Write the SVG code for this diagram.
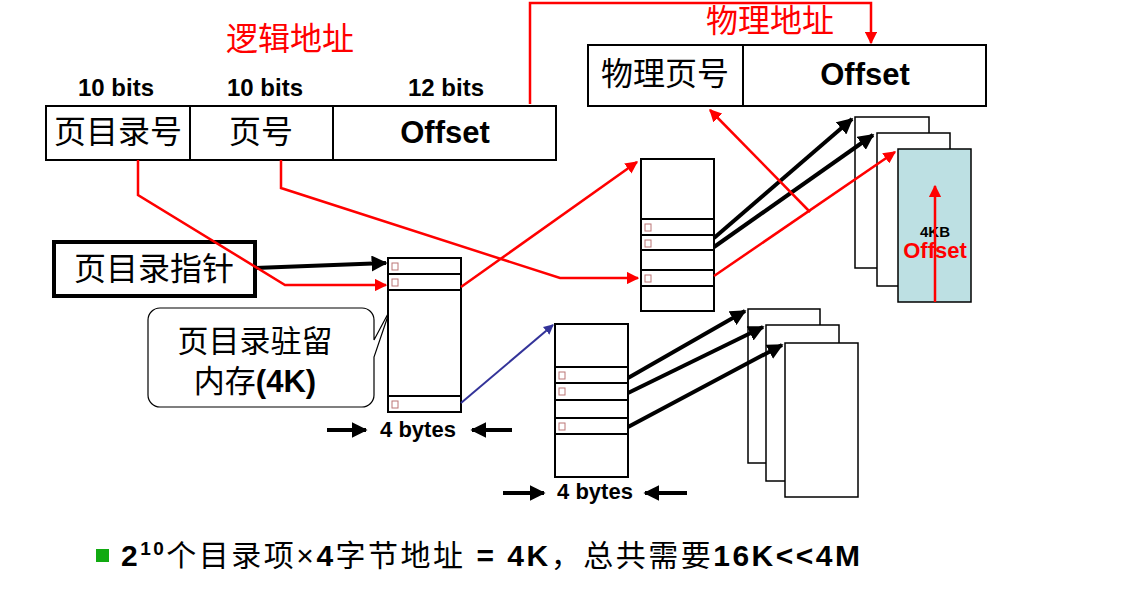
<svg xmlns="http://www.w3.org/2000/svg" width="1141" height="589" viewBox="0 0 1141 589">
<style>
.b{fill:#fff;stroke:#000;stroke-width:2}
.t{font-family:"Liberation Sans","Noto Sans CJK SC",sans-serif;font-weight:bold}
.c{font-family:"Liberation Sans","Noto Sans CJK SC",sans-serif}
.r{stroke:#f00;stroke-width:2.5;fill:none}
.k{stroke:#000;stroke-width:4;fill:none}
.ic{fill:#fff;stroke:#b77;stroke-width:1}
</style>
<defs>
<marker id="ar" viewBox="0 0 10 10" refX="9" refY="5" markerWidth="5" markerHeight="5" orient="auto"><path d="M0,0L10,5L0,10z" fill="#f00"/></marker>
<marker id="ak" viewBox="0 0 10 10" refX="9" refY="5" markerWidth="4" markerHeight="4" orient="auto"><path d="M0,0L10,5L0,10z" fill="#000"/></marker>
<marker id="ab" viewBox="0 0 10 10" refX="9" refY="5" markerWidth="5" markerHeight="5" orient="auto"><path d="M0,0L10,5L0,10z" fill="#339"/></marker>
</defs>
<rect width="1141" height="589" fill="#fff"/>
<g id="logical">
<text x="290" y="50" class="c" font-size="32" fill="#f00" text-anchor="middle">逻辑地址</text>
<text x="116" y="96" class="t" font-size="24" text-anchor="middle">10 bits</text>
<text x="265" y="96" class="t" font-size="24" text-anchor="middle">10 bits</text>
<text x="446" y="96" class="t" font-size="24" text-anchor="middle">12 bits</text>
<rect x="46" y="106" width="510" height="54" class="b"/>
<line x1="190" y1="106" x2="190" y2="160" stroke="#000" stroke-width="2"/>
<line x1="333" y1="106" x2="333" y2="160" stroke="#000" stroke-width="2"/>
<text x="118" y="143" class="c" font-size="32" text-anchor="middle">页目录号</text>
<text x="261" y="143" class="c" font-size="32" text-anchor="middle">页号</text>
<text x="445" y="143" class="t" font-size="31" text-anchor="middle">Offset</text>
</g>
<g id="physical">
<text x="770" y="32" class="c" font-size="32" fill="#f00" text-anchor="middle">物理地址</text>
<rect x="588" y="45" width="398" height="61" class="b"/>
<line x1="743" y1="45" x2="743" y2="106" stroke="#000" stroke-width="2"/>
<text x="665" y="85" class="c" font-size="32" text-anchor="middle">物理页号</text>
<text x="865" y="85" class="t" font-size="31" text-anchor="middle">Offset</text>
</g>
<g id="pdptr">
<rect x="54" y="242" width="201" height="54" fill="#fff" stroke="#000" stroke-width="4"/>
<text x="154" y="280" class="c" font-size="32" text-anchor="middle">页目录指针</text>
</g>
<g id="callout">
<path d="M160,308H362a12,12 0 0 1 12,12V340L390,310L374,357V395a12,12 0 0 1 -12,12H160a12,12 0 0 1 -12,-12V320a12,12 0 0 1 12,-12z" fill="#fff" stroke="#000" stroke-width="1.2"/>
<text x="255" y="352" class="c" font-size="31" text-anchor="middle">页目录驻留</text>
<text x="255" y="392" class="c" font-size="31" text-anchor="middle">内存<tspan class="t">(4K)</tspan></text>
</g>
<g id="pagedir">
<rect x="388" y="258" width="73" height="154" class="b"/>
<line x1="388" y1="274" x2="461" y2="274" stroke="#000" stroke-width="2"/>
<line x1="388" y1="290" x2="461" y2="290" stroke="#000" stroke-width="2"/>
<line x1="388" y1="396" x2="461" y2="396" stroke="#000" stroke-width="2"/>
<rect x="392" y="263" width="6" height="7" class="ic"/><rect x="392" y="279" width="6" height="7" class="ic"/><rect x="392" y="401" width="6" height="7" class="ic"/>
<text x="418" y="437" class="t" font-size="22" text-anchor="middle">4 bytes</text>
</g>
<g id="pt1">
<rect x="641" y="159" width="73" height="152" class="b"/>
<line x1="641" y1="219" x2="714" y2="219" stroke="#000" stroke-width="2"/>
<line x1="641" y1="235" x2="714" y2="235" stroke="#000" stroke-width="2"/>
<line x1="641" y1="250" x2="714" y2="250" stroke="#000" stroke-width="2"/>
<line x1="641" y1="270" x2="714" y2="270" stroke="#000" stroke-width="2"/>
<line x1="641" y1="286" x2="714" y2="286" stroke="#000" stroke-width="2"/>
<rect x="645" y="224" width="6" height="7" class="ic"/><rect x="645" y="240" width="6" height="7" class="ic"/><rect x="645" y="275" width="6" height="7" class="ic"/>
</g>
<g id="pt2">
<rect x="555" y="324" width="73" height="153" class="b"/>
<line x1="555" y1="367" x2="628" y2="367" stroke="#000" stroke-width="2"/>
<line x1="555" y1="383" x2="628" y2="383" stroke="#000" stroke-width="2"/>
<line x1="555" y1="400" x2="628" y2="400" stroke="#000" stroke-width="2"/>
<line x1="555" y1="418" x2="628" y2="418" stroke="#000" stroke-width="2"/>
<line x1="555" y1="434" x2="628" y2="434" stroke="#000" stroke-width="2"/>
<rect x="559" y="372" width="6" height="7" class="ic"/><rect x="559" y="388" width="6" height="7" class="ic"/><rect x="559" y="423" width="6" height="7" class="ic"/>
<text x="595" y="499" class="t" font-size="22" text-anchor="middle">4 bytes</text>
</g>
<g id="pages1">
<rect x="855" y="117" width="74" height="151" fill="#fff" stroke="#000" stroke-width="1.5"/>
<rect x="877" y="133" width="73" height="153" fill="#fff" stroke="#000" stroke-width="1.5"/>
<rect x="898" y="149" width="73" height="153" fill="#bde0e3" stroke="#000" stroke-width="1.5"/>
<text x="935" y="237" class="t" font-size="15" text-anchor="middle">4KB</text>
<text x="935" y="258" class="t" font-size="22" fill="#f00" text-anchor="middle">Offset</text>
</g>
<g id="pages2">
<rect x="748" y="309" width="72" height="154" fill="#fff" stroke="#000" stroke-width="1.5"/>
<rect x="766" y="325" width="73" height="156" fill="#fff" stroke="#000" stroke-width="1.5"/>
<rect x="785" y="343" width="73" height="154" fill="#fff" stroke="#000" stroke-width="1.5"/>
</g>
<g id="connectors">
<polyline points="530,104 530,3 871,3 871,43" class="r" marker-end="url(#ar)"/>
<line x1="255" y1="268" x2="386" y2="263" class="k" stroke-width="3" marker-end="url(#ak)"/>
<polyline points="138,160 138,195 285,285 386,285" class="r" marker-end="url(#ar)"/>
<polyline points="281,160 281,188 560,278 638,278" class="r" marker-end="url(#ar)"/>
<line x1="461" y1="287" x2="637" y2="162" class="r" marker-end="url(#ar)"/>
<line x1="461" y1="403" x2="553" y2="325" stroke="#339" stroke-width="2" marker-end="url(#ab)"/>
<line x1="714" y1="238" x2="852" y2="119" class="k" stroke-width="3" marker-end="url(#ak)"/>
<line x1="714" y1="247" x2="873" y2="135" class="k" stroke-width="3" marker-end="url(#ak)"/>
<line x1="714" y1="276" x2="895" y2="152" class="r" marker-end="url(#ar)"/>
<line x1="810" y1="212" x2="710" y2="110" class="r" marker-end="url(#ar)"/>
<line x1="935" y1="302" x2="935" y2="186" class="r" marker-end="url(#ar)"/>
<line x1="628" y1="378" x2="745" y2="311" class="k" stroke-width="3" marker-end="url(#ak)"/>
<line x1="628" y1="393" x2="763" y2="327" class="k" stroke-width="3" marker-end="url(#ak)"/>
<line x1="628" y1="427" x2="782" y2="345" class="k" stroke-width="3" marker-end="url(#ak)"/>
<line x1="327" y1="430" x2="366" y2="430" class="k" stroke-width="3" marker-end="url(#ak)"/>
<line x1="512" y1="430" x2="472" y2="430" class="k" stroke-width="3" marker-end="url(#ak)"/>
<line x1="503" y1="493" x2="544" y2="493" class="k" stroke-width="3" marker-end="url(#ak)"/>
<line x1="687" y1="493" x2="645" y2="493" class="k" stroke-width="3" marker-end="url(#ak)"/>
</g>
<g id="note">
<rect x="96" y="549" width="13" height="13" fill="#1a1"/>
<text x="121" y="566" class="t" font-size="30" textLength="739" lengthAdjust="spacing">2<tspan font-size="19" dy="-11">10</tspan><tspan dy="11" font-weight="normal">个目录项×</tspan>4<tspan font-weight="normal">字节地址</tspan> = 4K<tspan font-weight="normal">，总共需要</tspan>16K&lt;&lt;4M</text>
</g>
</svg>
